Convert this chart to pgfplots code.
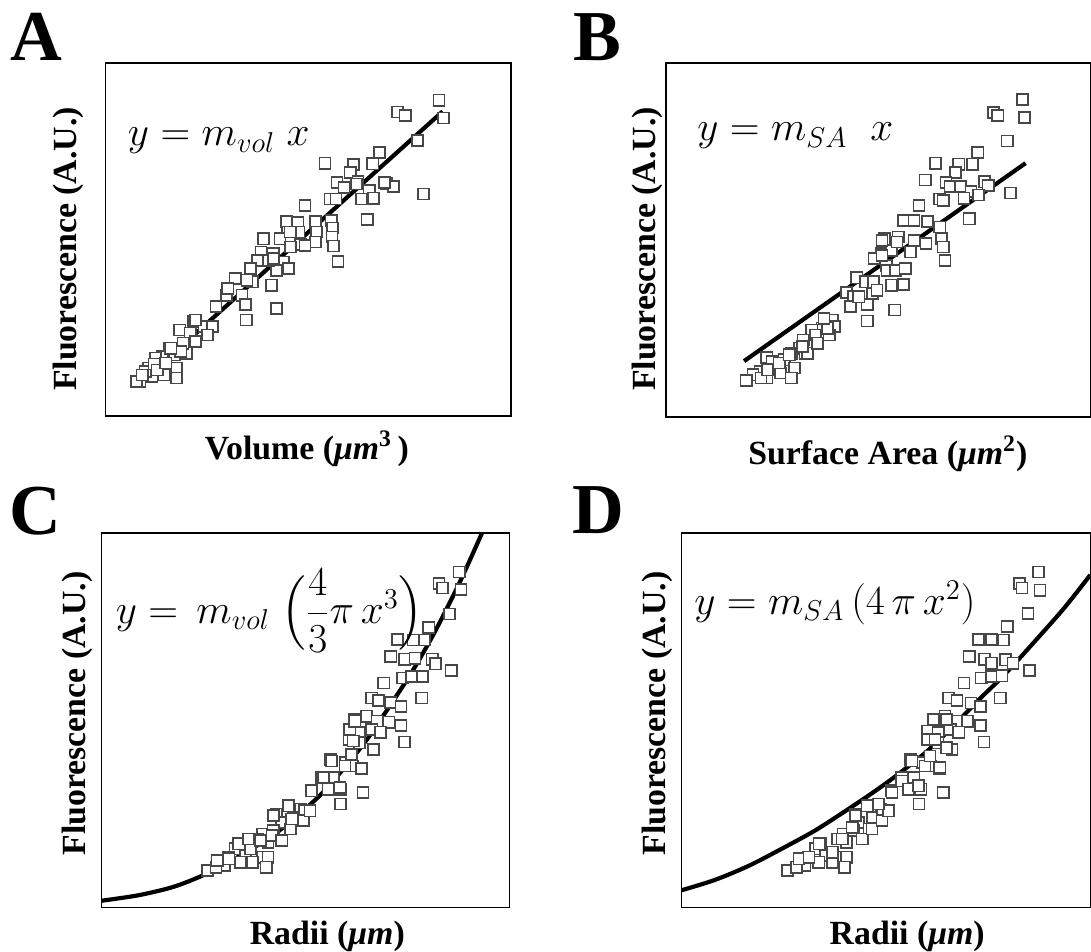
\documentclass[border=0pt]{standalone}
\usepackage{amsmath}
\usepackage{pgfplots}
\pgfplotsset{compat=1.18}
\usepackage{fontspec}
\setmainfont{Liberation Serif}
\pgfplotsset{
 panel/.style={scale only axis, anchor=north west, y dir=reverse, xtick=\empty, ytick=\empty,
   axis line style={black, line width=0.75pt}},
 pts/.style={only marks, mark=square*, mark size=2.8pt,
   mark options={draw=black!72, fill=white, line width=0.8pt, rounded corners=0.9pt}},
 fitline/.style={no marks, black, line width=2.1pt},
}
\newcommand{\lab}{\fontsize{17pt}{20pt}\selectfont\bfseries}
\newcommand{\panelfont}{\fontsize{36pt}{40pt}\selectfont\bfseries}
\newcommand{\eqfont}{\fontsize{20.5pt}{24pt}\selectfont}
\begin{document}
\begin{tikzpicture}
\begin{scope}[x=0.5pt,y=-0.5pt]
\path[use as bounding box] (0,0) rectangle (1091,957);
\end{scope}
% ---------------- A
\begin{axis}[panel, at={(53pt,-31.65pt)}, width=203.85pt, height=177.5pt,
  xmin=106, xmax=513.7, ymin=63.3, ymax=418.3]
\addplot[pts] coordinates {
(441.4,100.7)(399.7,112.7)(407.4,116)(446,118.7)(419.9,141.3)(381.3,153.3)(326.7,164)(355.2,165.3)
(374.7,164.7)(352.1,173.3)(338.9,183.3)(345.8,188.3)(359.8,182.7)(388.6,184.3)(395.6,187.7)(371.2,191.7)
(425.8,195)(331.9,200)(337.9,200)(363.2,200)(375.4,199.3)(369.1,220.7)(306.6,206.7)(287.8,222.7)
(299.6,224)(317,222.7)(333,221.7)(334.4,229.3)(289.2,233.3)(300.7,233.3)(318,233.3)(333.7,238.3)
(335.4,247.3)(264.9,240)(281.5,240)(317,243.3)(302.4,246)(292,248.3)(262.4,253.3)(259,261.7)
(274.6,255)(285,263.3)(339.9,262.7)(278.1,271.7)(290.2,270)(236.4,280)(253.7,283.3)(272.9,286.7)
(227.7,296.7)(243.3,296.7)(246.8,306)(217.2,308.3)(278.1,310)(247.5,321.7)(194.6,323.3)(205.1,328.3)
(180.7,331.7)(213.8,328.3)(191.2,335)(196.4,343.3)(208.5,336.7)(187.7,355)(170.3,350)(163.4,358.3)
(156.4,360)(175.5,356.7)(149.5,370)(177.3,370)(165.1,376.7)(152.9,378.3)(146,373.3)(140.8,383.3)
(177.3,380)(137.3,383.3)(184,345)(155,366)(167,365)(143,377)(158,372)(181.7,353.3)(229,290)(270,262)(252,270)
(358.3,185)(386.7,183.3)(291.7,233.3)(306.7,246.7)(275,260)(248.3,281.7)(196.7,321.7)(171.7,350)(166.7,365)
};
\addplot[fitline] coordinates {(138,388)(445,112)};
\end{axis}
% ---------------- B
\begin{axis}[panel, at={(334.7pt,-31.65pt)}, width=213.3pt, height=177.85pt,
  xmin=669.4, xmax=1096, ymin=63.3, ymax=419]
\addplot[pts] coordinates {
(1028.1,100)(998.6,113.3)(1003.1,116)(1029.9,118.3)(1012.5,141.7)(983,153.3)(940.5,164)(963.8,165)
(977.7,165)(960.4,173.3)(930.1,181)(951,183.3)(955.2,187.3)(965.6,187.3)(976,192.7)(989.9,182.7)
(993.4,186.7)(1016,194)(944.7,200)(948.2,201.7)(969,199.3)(983.7,196)(923.9,206.7)(974.3,220)
(908.2,221.7)(918.7,221.7)(932.6,222.7)(944.7,228.3)(889.1,240)(903,238.3)(918.7,241.7)(930.8,245)
(946.5,240)(948.2,248.3)(885.6,255)(896.1,251.7)(915.2,253.3)(949.9,261.7)(878.7,260)(890.8,266.7)
(910,269.3)(861.3,279.3)(870,283.3)(896.1,286.7)(908.2,286)(850.9,294)(857.8,298.3)(876.9,295)
(871.7,306)(899.5,311.7)(871.7,322.7)(837,321.7)(826.5,330)(838.7,328.3)(816.1,331.7)(807.4,341.7)
(819.6,336.7)(833.5,336.7)(803.9,350)(809.2,355)(795.3,355)(788.3,361.7)(770.9,359.3)(776.1,363.3)
(798.7,370)(784.8,375)(764,373.3)(757,376.7)(750.1,382.7)(795.3,380)(770.9,380)
(765,380)(771.7,371.7)(783.3,365)(793.3,356.7)(811.7,355)(806.7,348.3)(821.7,345)(831.7,330)
(828.3,320)(855,308.3)(863.3,298.3)(878.3,283.3)(881.7,291.7)(891.7,271.7)(886.7,256.7)(886.7,241.7)
(901.7,243.3)(900,271.7)(910,270)
};
\addplot[fitline] coordinates {(748,363)(1031,164)};
\end{axis}
% ---------------- C
\begin{axis}[panel, at={(50.9pt,-268pt)}, width=205.1pt, height=188.15pt,
  xmin=101.8, xmax=512, ymin=536, ymax=912.3]
\addplot[fitline, smooth] coordinates {
(101.8,905.5)(139,900)(173.8,891.7)(201.6,881)(225.9,869)(250.3,855)(278.1,837)(305.9,814)
(326.7,794.5)(347.6,770)(368.4,744)(396.3,703)(417.1,670.5)(438,633.5)(462.3,585)(484.9,535)(492,518)};
\addplot[pts] coordinates {
(461.6,575)(441.4,586.7)(444.9,591)(463.3,592.7)(451.9,617.3)(431,630.7)(399.7,642.7)(415.4,643.3)
(426.8,643.3)(392.8,660)(406.7,662.7)(417.1,661.7)(434.5,662.7)(438,667.3)(453.6,674)(404.9,681.7)
(413.6,680)(424.7,680)(385.8,686.7)(424,701.7)(373.7,701.7)(380.6,704)(392.8,706)(403.2,710)
(356.3,723.3)(368.4,720)(378.9,725)(391,726)(403.2,729.3)(351.1,735)(361.5,736.7)(373.7,733.3)
(382.3,736)(406.7,746)(351.1,743.3)(361.5,746.7)(375.4,753.3)(331.9,763.3)(347.6,766.7)(354.5,770)
(363.2,772.7)(323.3,781.7)(335.4,781.7)(342.4,793.3)(365,796.7)(312.8,795)(342.4,808.3)(302.4,813.3)
(290.2,810)(278.1,818.3)(295.4,821.7)(305.9,815)(283.3,826.7)(292,833.3)(264.2,838.3)(274.6,835)
(258.9,843.3)(269.4,846.7)(243.3,848.3)(236.4,853.3)(246.8,860)(264.2,861.7)(229.4,861.7)(253.7,866.7)
(269.4,861.7)(267.6,871.7)(225.9,870)(208.5,875)(217.2,871.7)(241.6,866.7)
(218.3,865)(230,863.3)(240,848.3)(251.7,853.3)(261.7,845)(250,843.3)(273.3,840)(283.3,845)
(275,820)(293.3,823.3)(305,825)(311.7,815)(313.3,795)(325,781.7)(330,793.3)(341.7,791.7)
(333.3,765)(346.7,770)(353.3,758.3)(355,745)(351.7,733.3)(356.7,725)
};
\end{axis}
% ---------------- D
\begin{axis}[panel, at={(342.5pt,-268pt)}, width=205.5pt, height=188.15pt,
  xmin=685, xmax=1096, ymin=536, ymax=912.3]
\addplot[fitline, smooth] coordinates {
(685,895)(718.8,884.5)(753.5,870)(790,851)(820,834.5)(853.3,813)(880,795)(903.3,778)(933.3,754)
(962,726)(986.5,701)(1010,678)(1040,645)(1070,611)(1096,578)};
\addplot[pts] coordinates {
(1043.8,575)(1024.7,586.7)(1027.4,591)(1045.5,593.3)(1033.4,616.7)(1012.5,630)(983.7,642.7)(996.9,642.7)
(1009,643.3)(974.3,660)(989.9,662.7)(996.9,666.7)(1010.8,663.3)(1018.4,666.7)(1035.1,674)(986.4,681.7)
(996.9,680)(1007.3,679.3)(969,686.7)(1005.5,701.7)(953.4,701.7)(962.1,704)(976,706.7)(985.7,710)
(937.8,723.3)(949.9,720)(962.1,725)(972.5,725)(985.7,729.3)(932.6,735)(943,736.7)(955.2,733.3)
(963.8,736)(989.2,746)(932.6,743.3)(943,746.7)(956.9,753.3)(915.2,763.3)(927.3,766.7)(936,770)
(944.7,772.7)(906.5,781.7)(918.7,781.7)(925.6,793.3)(948.2,796.7)(896.1,795)(923.9,808.3)(885.6,813.3)
(871.7,810)(859.6,818.3)(876.9,821.7)(887.4,815)(863,826.7)(873.5,833.3)(847.4,838.3)(857.8,835)
(842.2,843.3)(850.9,846.7)(824.8,848.3)(819.6,853.3)(830,860)(843.9,861.7)(812.6,861.7)(837,866.7)
(850.9,861.7)(849.1,871.7)(809.2,870)(791.8,875)(800.5,871.7)(823.1,866.7)
(803.3,863.3)(813.3,861.7)(823.3,848.3)(836.7,856.7)(846.7,843.3)(856.7,831.7)(866.7,843.3)(860,820)
(876.7,833.3)(886.7,825)(893.3,815)(883.3,808.3)(896.7,796.7)(906.7,785)(913.3,793.3)(923.3,790)
(916.7,765)(930,770)(945,771.7)(935,760)(940,743.3)(951.7,751.7)(938.3,723.3)(951.7,723.3)
};
\end{axis}
% ---------------- texts
\begin{scope}[x=0.5pt,y=-0.5pt, every node/.style={inner sep=0pt, outer sep=0pt}]
\node[font=\panelfont] at (36.5,37) {A};
\node[font=\panelfont] at (600.5,37) {B};
\node[font=\panelfont] at (35.5,513.5) {C};
\node[font=\panelfont] at (602,512.5) {D};
\node[font=\lab, rotate=90, anchor=west] at (68.5,393) {Fluorescence (A.U.)};
\node[font=\lab, rotate=90, anchor=west] at (651,393) {Fluorescence (A.U.)};
\node[font=\lab, rotate=90, anchor=west] at (78,860) {Fluorescence (A.U.)};
\node[font=\lab, rotate=90, anchor=west] at (661,860) {Fluorescence (A.U.)};
\node[font=\lab] at (308.5,451) {Volume (\textit{μm}\textsuperscript{3}\,)};
\node[font=\lab] at (892.5,456) {Surface Area (\textit{μm}\textsuperscript{2})};
\node[font=\lab] at (329,941) {Radii (\textit{μm})};
\node[font=\lab] at (912,941) {Radii (\textit{μm})};
\node[font=\eqfont, anchor=base west] at (128.6,146.7) {$y = m_{vol}\; x$};
\node[font=\eqfont, anchor=base west] at (701,141.7) {$y = m_{SA}\;\; x$};
\node[font=\eqfont, anchor=base west] at (116.4,627) {$y = \, m_{vol}\;\Bigl(\dfrac{4}{3}\pi\, x^3\Bigr)$};
\node[font=\eqfont, anchor=base west] at (698,618) {$y = m_{SA}\,(4\,\pi\, x^2)$};
\end{scope}
\end{tikzpicture}
\end{document}
